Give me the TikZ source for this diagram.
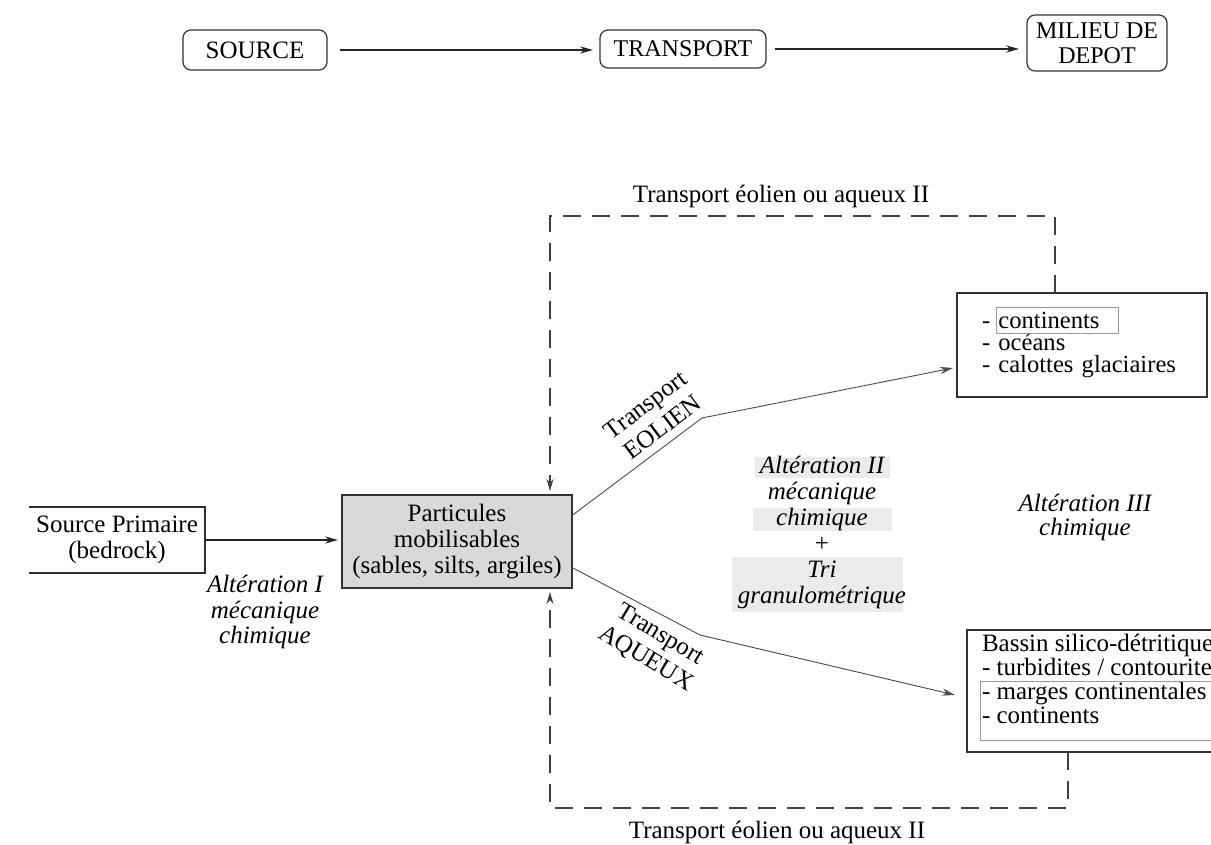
\documentclass[tikz,border=0pt]{standalone}
\usepackage{fontspec}
\setmainfont{Liberation Serif}
\usetikzlibrary{arrows.meta,calc}
\begin{document}
\begin{tikzpicture}[x=0.5pt,y=-0.5pt,
  every node/.style={inner sep=0pt, outer sep=0pt},
  ln/.style={draw=black!85, line width=0.6pt},
  arr/.style={ln, -{Stealth[length=6.5pt,width=3.6pt]}},
  thinarr/.style={draw=black!70, line width=0.45pt, -{Stealth[length=6.5pt,width=3.6pt]}},
  topbox/.style={draw=black!80, line width=0.6pt, rounded corners=4pt, font=\fontsize{12}{12.5}\selectfont, align=center},
  boxline/.style={draw=black!80, line width=0.6pt},
  txt/.style={font=\fontsize{12.5}{13}\selectfont, align=center},
  itx/.style={font=\fontsize{12.5}{12.75}\selectfont\itshape, align=center},
  dsh/.style={draw=black!75, line width=0.6pt, dash pattern=on 9pt off 5.5pt},
  shadebox/.style={fill=black!8, draw=none},
  ghost/.style={draw=black!40, line width=0.4pt}
]
\clip (0,0) rectangle (1211,845);
\fill[white] (0,0) rectangle (1211,845);

% top row
\node[topbox, font=\fontsize{12.5}{12.5}\selectfont, minimum width=72pt, minimum height=20pt] (src) at (255,50) {SOURCE};
\node[topbox, minimum width=83pt, minimum height=19pt] (trans) at (683,49) {TRANSPORT};
\node[topbox, minimum width=70pt, minimum height=28pt] (mil) at (1097,43) {MILIEU DE\\DEPOT};
\draw[arr] ([xshift=6.5pt]src.east) -- ([xshift=-3.5pt]src.east -| trans.west);
\draw[arr] ([xshift=4.5pt]trans.east) -- ([xshift=-4pt]trans.east -| mil.west);

% titles of the dashed loop
\node[txt] (ttop) at (781,196) {Transport éolien ou aqueux II};
\node[txt] (tbot) at (777,832) {Transport éolien ou aqueux II};

% left side
\node[txt, minimum width=88pt, minimum height=33pt] (sp) at (117,540) {Source Primaire\\(bedrock)};
\draw[boxline] (sp.north west) -- (sp.north east) -- (sp.south east) -- (sp.south west);
\node[txt, draw=black!80, line width=0.6pt, fill=black!15, minimum width=115pt, minimum height=46.5pt] (part) at (457,541.5) {Particules\\mobilisables\\(sables, silts, argiles)};
\draw[arr] (sp.east) -- ([xshift=-2pt]sp.east -| part.west);
\node[itx] (alt1) at (265,612) {Altération I\\mécanique\\chimique};

% right boxes
\node[boxline, minimum width=125pt, minimum height=52pt, text width=100pt, align=left, inner xsep=12.5pt, font=\fontsize{12.3}{11}\selectfont] (cont) at (1082,345) {- continents\\- océans\\- calottes glaciaires};
\draw[ghost] (996,307) rectangle (1118,333);

\node[boxline, minimum width=137pt, minimum height=61pt, anchor=north west] (bassin) at (967,630) {};
\node[anchor=north west, align=left, font=\fontsize{12.5}{12}\selectfont] (btxt) at (982,634) {Bassin silico-détritique\\- turbidites / contourites\\- marges continentales\\- continents};
\draw[ghost] (980,681) rectangle (1240,740);

% Alteration II
\fill[shadebox] (755,457) rectangle (890,478);
\fill[shadebox] (753,508) rectangle (892,531);
\fill[shadebox] (732,557) rectangle (903,612);
\node[itx, font=\fontsize{12.5}{13}\selectfont\itshape] (alt2) at (822,532) {Altération II\\mécanique\\chimique\\\textup{+}\\Tri\\granulométrique};
\node[itx, font=\fontsize{12.5}{12}\selectfont\itshape] (alt3) at (1085,517) {Altération III\\chimique};

% transport branches
\coordinate (eb) at (702,418);
\coordinate (ab) at (700,635);
\draw[thinarr] ($(part.east)+(0,-26)$) -- (eb) -- ($(cont.west)+(-4,23)$);
\draw[thinarr] ($(part.east)+(0,26)$) -- (ab) -- ($(bassin.west)+(-12,4)$);
\node[txt, font=\fontsize{12.5}{14}\selectfont, rotate=37] (leol) at (654,416) {Transport\\EOLIEN};
\node[txt, font=\fontsize{12.5}{14}\selectfont, rotate=-31] (laq) at (653,647) {Transport\\AQUEUX};

% dashed loops
\coordinate (dtl) at (550,216);
\coordinate (dtr) at (1055,216);
\coordinate (dbl) at (550,808);
\coordinate (dbr) at (1068,808);
\draw[dsh, -{Stealth[length=6pt,width=3.5pt]}, shorten >=2pt] ($(cont.north west)+(98,0)$) -- (dtr) -- (dtl) -- (dtl |- part.north);
\draw[dsh, -{Stealth[length=6pt,width=3.5pt]}, shorten >=2pt] ($(bassin.south west)+(101,0)$) -- (dbr) -- (dbl) -- (dbl |- part.south);
\end{tikzpicture}
\end{document}
